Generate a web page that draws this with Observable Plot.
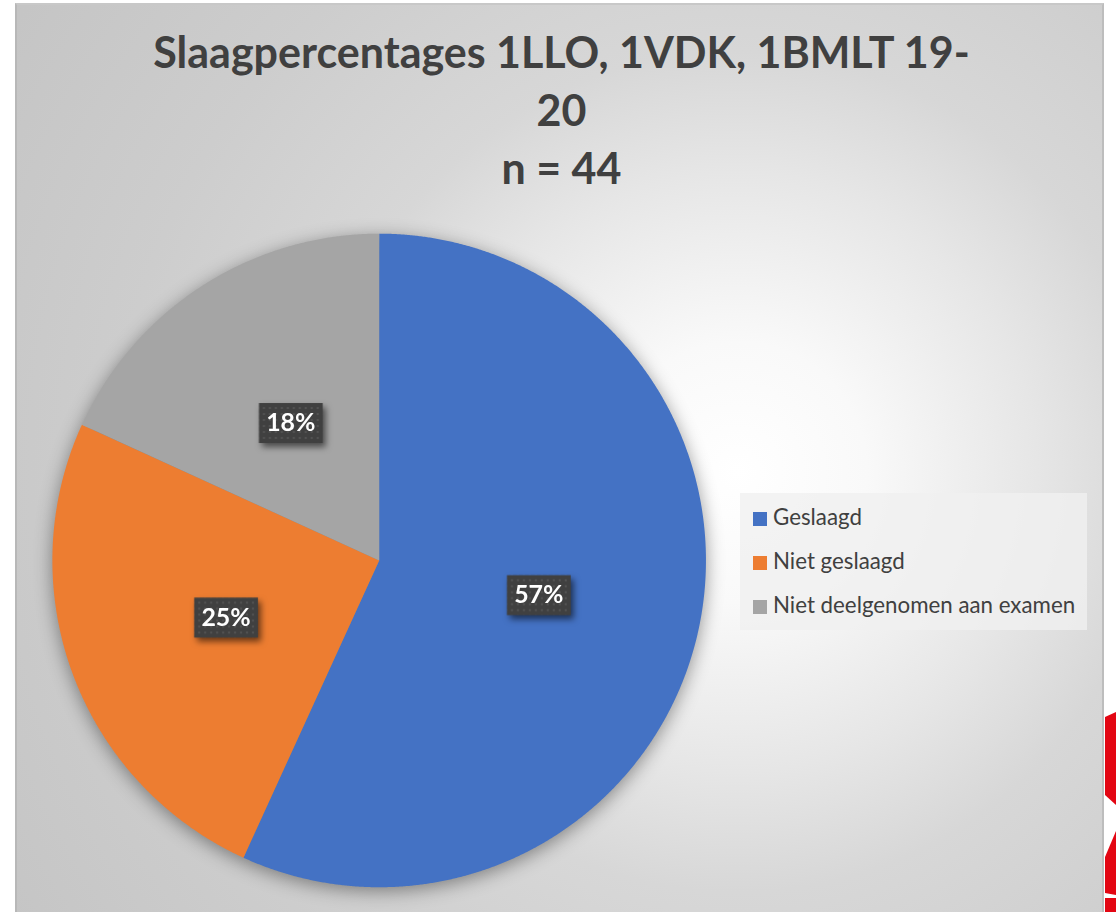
<!DOCTYPE html>
<html>
<head>
<meta charset="utf-8">
<script src="https://cdn.jsdelivr.net/npm/d3@7"></script>
<script src="https://cdn.jsdelivr.net/npm/@observablehq/plot@0.6"></script>
<style>
  html, body { margin: 0; padding: 0; background: #ffffff; width: 1116px; height: 912px; overflow: hidden; }
  #frame {
    position: absolute; left: 15px; top: 3px; width: 1089px; height: 912px;
    box-sizing: border-box;
    border-left: 2px solid #b8b8b8; border-top: 2px solid #c8c8c8; border-right: 2px solid #bdbdbd;
    background: radial-gradient(circle 880px at 720px 467px, #ffffff 0px, #f9f9f9 130px, #e6e6e6 300px, #d7d7d7 420px, #cdcdcd 620px, #c4c4c4 880px);
    overflow: hidden;
  }
  #title {
    position: absolute; left: 0; top: 18px; width: 1089px; text-align: center;
    font-family: Lato, "Open Sans", sans-serif; font-weight: 700; font-size: 43px; line-height: 58px;
    color: #404040;
  }
  #chart { position: absolute; left: 0; top: 0; }
  #legend {
    position: absolute; left: 723px; top: 488px; width: 347px; height: 137px;
    background: rgba(240,240,240,0.8);
    font-family: Lato, "Open Sans", sans-serif; font-size: 22.3px; color: #404040;
  }
  .item { position: absolute; left: 13px; height: 24px; line-height: 24px; white-space: nowrap; }
  .sw { display: inline-block; width: 14px; height: 14px; vertical-align: -1px; margin-right: 6px; }
  .red { position: absolute; background: #e30613; }
</style>
</head>
<body>
<div id="frame">
  <div id="chart"></div>
  <div id="title"></div>
  <div id="legend"></div>
</div>
<div class="red" style="left:1105px; top:700px; width:11px; height:110px; clip-path: polygon(0 17px, 100% 12px, 100% 105px, 0 95px);"></div>
<div class="red" style="left:1105px; top:825px; width:11px; height:87px; clip-path: polygon(0 32px, 100% 6px, 100% 70px, 0 68px);"></div>
<div class="red" style="left:1105px; top:898px; width:11px; height:14px;"></div>
<script>
// ---- data ----
const titleLines = ["Slaagpercentages 1LLO, 1VDK, 1BMLT 19-", "20", "n = 44"];
const categories = ["Geslaagd", "Niet geslaagd", "Niet deelgenomen aan examen"];
const counts = [25, 11, 8];
const colors = ["#4472C4", "#ED7D31", "#A5A5A5"];

// ---- title ----
document.getElementById("title").innerHTML = titleLines.join("<br>");

// ---- legend ----
const legend = document.getElementById("legend");
categories.forEach((c, i) => {
  const d = document.createElement("div");
  d.className = "item";
  d.style.top = (12 + i * 44) + "px";
  d.innerHTML = `<span class="sw" style="background:${colors[i]}"></span>${c}`;
  legend.appendChild(d);
});

// ---- pie geometry via d3.pie ----
const total = d3.sum(counts);
const rows = categories.map((c, i) => ({cat: c, value: counts[i]}));
const arcs = d3.pie().sort(null).value(d => d.value).startAngle(0).endAngle(2 * Math.PI)(rows);
const pts = [];
arcs.forEach(a => {
  pts.push({cat: a.data.cat, x: 0, y: 0});
  const n = Math.max(2, Math.ceil((a.endAngle - a.startAngle) / 0.004));
  for (let k = 0; k <= n; k++) {
    const t = a.startAngle + (a.endAngle - a.startAngle) * k / n;
    pts.push({cat: a.data.cat, x: Math.sin(t), y: Math.cos(t)});
  }
});
const labels = arcs.map(a => {
  const m = (a.startAngle + a.endAngle) / 2;
  return {cat: a.data.cat, x: 0.5 * Math.sin(m), y: 0.5 * Math.cos(m),
          text: Math.round(a.data.value / total * 100) + "%"};
});

const boxSymbol = { draw(ctx) { ctx.rect(-32, -20, 64, 40); } };

const W = 1089, H = 909, cx = 363, cy = 557, R = 328;
const svg = Plot.plot({
  width: W, height: H,
  margin: 0,
  style: {background: "transparent", overflow: "visible"},
  x: {domain: [-1, 1], range: [cx - R, cx + R], axis: null},
  y: {domain: [-1, 1], range: [cy + R, cy - R], axis: null},
  color: {domain: categories, range: colors},
  marks: [
    Plot.line(pts, {x: "x", y: "y", z: "cat", fill: "cat", stroke: null, curve: "linear-closed"}),
    Plot.dot(labels, {x: "x", y: "y", r: 10, symbol: boxSymbol, fill: "url(#dots)", stroke: null}),
    Plot.text(labels, {x: "x", y: "y", text: "text", fill: "white", fontSize: 25, fontWeight: 700,
                       fontFamily: "Lato, 'Open Sans', sans-serif"})
  ]
});

// pattern for label boxes
const ns = "http://www.w3.org/2000/svg";
const defs = document.createElementNS(ns, "defs");
defs.innerHTML = `<pattern id="dots" patternUnits="userSpaceOnUse" width="6" height="6">
  <rect width="6" height="6" fill="#404040"/><rect x="2" y="2" width="2" height="2" fill="#555555"/></pattern>`;
svg.insertBefore(defs, svg.firstChild);
const lineG = svg.querySelector('g[aria-label="line"]');
if (lineG) lineG.style.filter = "drop-shadow(0px 4px 9px rgba(0,0,0,0.4))";
const dotG = svg.querySelector('g[aria-label="dot"]');
if (dotG) dotG.style.filter = "drop-shadow(3px 4px 3px rgba(0,0,0,0.55))";
document.getElementById("chart").appendChild(svg);
</script>
</body>
</html>
